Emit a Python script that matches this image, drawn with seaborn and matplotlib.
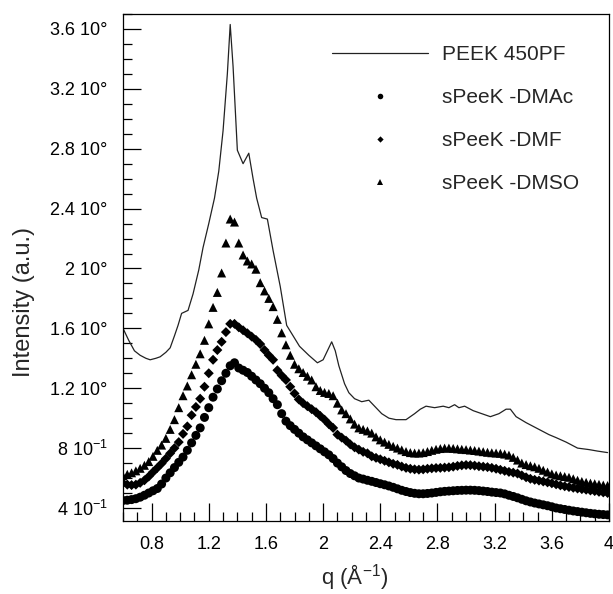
import numpy as np
import pandas as pd
import matplotlib
matplotlib.use("Agg")
import matplotlib.pyplot as plt
import seaborn as sns
from matplotlib.lines import Line2D
from matplotlib.ticker import MultipleLocator, FixedLocator, FixedFormatter

# ---------------- data ----------------
q_start = 0.60
q_step = 0.03

dmac = [0.45, 0.452, 0.456, 0.462, 0.472, 0.485, 0.50, 0.515, 0.53, 0.56,
        0.60, 0.635, 0.67, 0.705, 0.74, 0.785, 0.835, 0.885, 0.935, 1.005,
        1.07, 1.14, 1.195, 1.25, 1.30, 1.35, 1.37, 1.335, 1.32, 1.305,
        1.28, 1.255, 1.23, 1.20, 1.17, 1.13, 1.09, 1.03, 0.98, 0.95,
        0.925, 0.90, 0.875, 0.855, 0.835, 0.815, 0.795, 0.775, 0.755, 0.73,
        0.70, 0.675, 0.65, 0.63, 0.615, 0.60, 0.593, 0.585, 0.578, 0.57,
        0.562, 0.555, 0.547, 0.538, 0.528, 0.518, 0.51, 0.503, 0.498, 0.495,
        0.495, 0.497, 0.50, 0.504, 0.508, 0.511, 0.513, 0.515, 0.517, 0.518,
        0.519, 0.519, 0.518, 0.516, 0.513, 0.51, 0.506, 0.503, 0.50, 0.494,
        0.485, 0.477, 0.468, 0.458, 0.448, 0.44, 0.433, 0.427, 0.421, 0.415,
        0.408, 0.40, 0.395, 0.39, 0.385, 0.38, 0.376, 0.372, 0.368, 0.364,
        0.361, 0.358, 0.356, 0.354]

dmf = [0.565, 0.556, 0.553, 0.556, 0.568, 0.585, 0.61, 0.64, 0.668, 0.697,
       0.73, 0.765, 0.80, 0.84, 0.895, 0.945, 1.02, 1.075, 1.13, 1.21,
       1.30, 1.39, 1.455, 1.51, 1.575, 1.63, 1.63, 1.607, 1.587, 1.567,
       1.545, 1.523, 1.495, 1.455, 1.42, 1.39, 1.32, 1.285, 1.255, 1.21,
       1.165, 1.125, 1.10, 1.08, 1.06, 1.04, 1.015, 0.99, 0.96, 0.935,
       0.89, 0.87, 0.85, 0.825, 0.805, 0.79, 0.775, 0.765, 0.745, 0.735,
       0.725, 0.715, 0.705, 0.695, 0.688, 0.677, 0.668, 0.662, 0.658, 0.656,
       0.658, 0.662, 0.665, 0.667, 0.668, 0.67, 0.672, 0.676, 0.681, 0.685,
       0.687, 0.686, 0.683, 0.679, 0.676, 0.673, 0.668, 0.662, 0.655, 0.648,
       0.641, 0.636, 0.63, 0.618, 0.605, 0.595, 0.588, 0.583, 0.577, 0.571,
       0.565, 0.558, 0.551, 0.545, 0.54, 0.535, 0.53, 0.526, 0.522, 0.517,
       0.513, 0.508, 0.504, 0.50]

dmso = [0.615, 0.625, 0.635, 0.648, 0.665, 0.685, 0.71, 0.745, 0.785, 0.82,
        0.865, 0.925, 0.99, 1.07, 1.15, 1.215, 1.29, 1.36, 1.43, 1.52,
        1.63, 1.74, 1.84, 1.97, 2.17, 2.33, 2.31, 2.17, 2.09, 2.05,
        2.03, 1.995, 1.905, 1.85, 1.80, 1.745, 1.66, 1.57, 1.49, 1.42,
        1.36, 1.33, 1.305, 1.28, 1.255, 1.21, 1.185, 1.172, 1.165, 1.15,
        1.10, 1.055, 1.03, 0.995, 0.96, 0.935, 0.925, 0.915, 0.90, 0.875,
        0.855, 0.84, 0.825, 0.812, 0.80, 0.788, 0.777, 0.77, 0.767, 0.767,
        0.77, 0.777, 0.785, 0.792, 0.797, 0.80, 0.80, 0.798, 0.795, 0.792,
        0.79, 0.787, 0.784, 0.78, 0.776, 0.772, 0.769, 0.767, 0.765, 0.76,
        0.753, 0.738, 0.72, 0.70, 0.69, 0.682, 0.675, 0.665, 0.652, 0.64,
        0.628, 0.62, 0.615, 0.61, 0.605, 0.595, 0.585, 0.577, 0.571, 0.566,
        0.562, 0.558, 0.553, 0.55]

peek_q = [0.60, 0.64, 0.68, 0.72, 0.76, 0.79, 0.83, 0.86, 0.90, 0.93,
          0.96, 0.985, 1.01, 1.055, 1.09, 1.13, 1.16, 1.20, 1.24, 1.27,
          1.30, 1.33, 1.35, 1.37, 1.40, 1.44, 1.48, 1.51, 1.535, 1.57,
          1.61, 1.65, 1.70, 1.745, 1.79, 1.835, 1.90, 1.96, 2.00, 2.03,
          2.06, 2.085, 2.11, 2.15, 2.18, 2.22, 2.27, 2.32, 2.36, 2.41,
          2.46, 2.51, 2.58, 2.64, 2.68, 2.72, 2.78, 2.84, 2.88, 2.92,
          2.95, 2.99, 3.05, 3.11, 3.17, 3.23, 3.28, 3.31, 3.35, 3.42,
          3.50, 3.58, 3.63, 3.70, 3.78, 3.86, 3.92, 3.99]
peek_i = [1.60, 1.52, 1.45, 1.42, 1.40, 1.39, 1.40, 1.41, 1.44, 1.47,
          1.55, 1.62, 1.70, 1.72, 1.83, 1.99, 2.14, 2.30, 2.47, 2.65,
          2.92, 3.30, 3.63, 3.35, 2.79, 2.70, 2.77, 2.60, 2.47, 2.34,
          2.33, 2.12, 1.88, 1.62, 1.55, 1.48, 1.42, 1.37, 1.39, 1.45,
          1.51, 1.45, 1.35, 1.23, 1.17, 1.13, 1.11, 1.12, 1.08, 1.03,
          1.00, 0.99, 0.99, 1.03, 1.06, 1.08, 1.07, 1.08, 1.07, 1.09,
          1.07, 1.08, 1.05, 1.03, 1.01, 1.03, 1.06, 1.06, 1.01, 0.97,
          0.93, 0.89, 0.87, 0.84, 0.80, 0.79, 0.78, 0.77]

series_labels = ["PEEK 450PF", "sPeeK -DMAc", "sPeeK -DMF", "sPeeK -DMSO"]
xtick_values = [0.8, 1.2, 1.6, 2.0, 2.4, 2.8, 3.2, 3.6, 4.0]
xtick_labels = ["0.8", "1.2", "1.6", "2", "2.4", "2.8", "3.2", "3.6", "4"]
ytick_values = [0.4, 0.8, 1.2, 1.6, 2.0, 2.4, 2.8, 3.2, 3.6]
ytick_labels = ["4 10$^{\\mathregular{-1}}$", "8 10$^{\\mathregular{-1}}$",
                "1.2 10°", "1.6 10°", "2 10°", "2.4 10°", "2.8 10°",
                "3.2 10°", "3.6 10°"]
x_label = "q (Å$^{\\mathregular{-1}}$)"
y_label = "Intensity (a.u.)"

# ---------------- build tables ----------------
def sample_table(values, name):
    q = q_start + q_step * np.arange(len(values))
    return pd.DataFrame({"q": q, "I": values, "sample": name})

df_dmac = sample_table(dmac, series_labels[1])
df_dmf = sample_table(dmf, series_labels[2])
df_dmso = sample_table(dmso, series_labels[3])
df_peek = pd.DataFrame({"q": peek_q, "I": peek_i, "sample": series_labels[0]})

# ---------------- style ----------------
sns.set_theme(style="ticks")
plt.rcParams["font.family"] = ["Liberation Sans", "DejaVu Sans"]
plt.rcParams["mathtext.fontset"] = "custom"
plt.rcParams["mathtext.rm"] = "Liberation Sans"
plt.rcParams["mathtext.it"] = "Liberation Sans:italic"
plt.rcParams["axes.linewidth"] = 0.9

fig = plt.figure(figsize=(6.13, 5.94), dpi=100)
ax = fig.add_axes([123 / 613, 1 - 521 / 594, 486 / 613, 507 / 594])

sns.lineplot(data=df_peek, x="q", y="I", ax=ax, color="#222222", lw=0.9,
             sort=False, legend=False)
sns.scatterplot(data=df_dmac, x="q", y="I", ax=ax, marker="o", s=42,
                color="black", edgecolor="none", legend=False)
sns.scatterplot(data=df_dmf, x="q", y="I", ax=ax, marker="D", s=26,
                color="black", edgecolor="none", legend=False)
sns.scatterplot(data=df_dmso, x="q", y="I", ax=ax, marker="^", s=42,
                color="black", edgecolor="none", legend=False)

ax.set_xlim(0.6, 4.0)
ax.set_ylim(0.313, 3.7)

ax.xaxis.set_major_locator(FixedLocator(xtick_values))
ax.xaxis.set_major_formatter(FixedFormatter(xtick_labels))
ax.xaxis.set_minor_locator(MultipleLocator(0.1))
ax.yaxis.set_major_locator(FixedLocator(ytick_values))
ax.yaxis.set_major_formatter(FixedFormatter(ytick_labels))
ax.yaxis.set_minor_locator(MultipleLocator(0.1))

ax.tick_params(which="both", direction="in", top=False, right=False,
               colors="black", width=0.9)
ax.tick_params(which="major", length=13, labelsize=13, pad=11)
ax.tick_params(which="minor", length=6.5)
for sp in ax.spines.values():
    sp.set_color("black")

ax.set_xlabel(x_label, fontsize=16)
ax.set_ylabel(y_label, fontsize=17)
ax.xaxis.label.set_va("center")
ax.yaxis.label.set_va("center")
ax.xaxis.set_label_coords((355 - 123) / 486, (521 - 577) / 507)
ax.yaxis.set_label_coords((24 - 123) / 486, (521 - 302) / 507)

handles = [
    Line2D([], [], color="#222222", lw=0.9),
    Line2D([], [], color="black", marker="o", ls="none", markersize=4, markeredgewidth=0),
    Line2D([], [], color="black", marker="D", ls="none", markersize=3.2, markeredgewidth=0),
    Line2D([], [], color="black", marker="^", ls="none", markersize=4.2, markeredgewidth=0),
]
fig.legend(handles, series_labels, loc="upper left",
           bbox_to_anchor=(332 / 613, 1 - 45 / 594), frameon=False,
           fontsize=15, handlelength=4.6, handletextpad=0.67,
           labelspacing=1.15, borderpad=0, borderaxespad=0)

fig.savefig("out.png", dpi=100)
